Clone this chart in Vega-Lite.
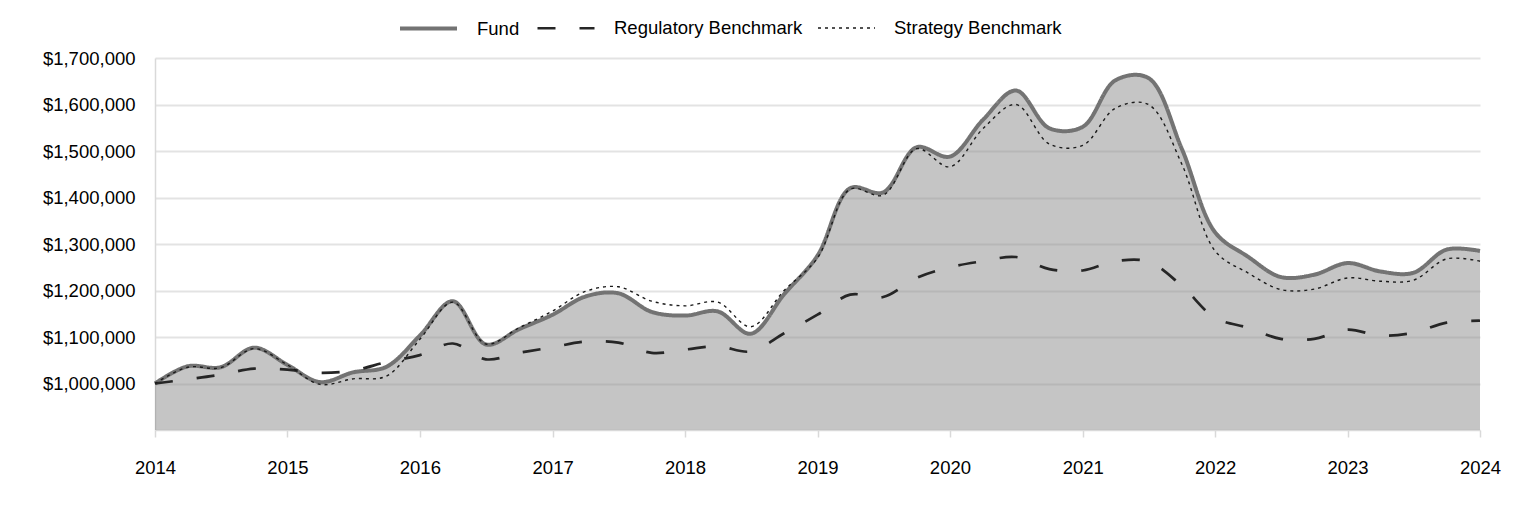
{
  "$schema": "https://vega.github.io/schema/vega-lite/v6.json",
  "width": 1325,
  "height": 372,
  "autosize": {"type": "none"},
  "padding": {"left": 155, "top": 58, "right": 44, "bottom": 86},
  "background": "white",
  "config": {
    "view": {"stroke": null},
    "font": "Liberation Sans",
    "axis": {"labelFont": "Liberation Sans", "labelFontSize": 18.5, "labelColor": "#000000", "title": null},
    "legend": {"labelFont": "Liberation Sans", "labelFontSize": 18.5, "labelColor": "#000000", "labelLimit": 0}
  },
  "data": {
    "values": [
      {"date": "2014-01-01", "Fund": 1000000, "Regulatory Benchmark": 1000000, "Strategy Benchmark": 1000000},
      {"date": "2014-04-01", "Fund": 1037000, "Regulatory Benchmark": 1009000, "Strategy Benchmark": 1035000},
      {"date": "2014-07-01", "Fund": 1035000, "Regulatory Benchmark": 1019000, "Strategy Benchmark": 1034000},
      {"date": "2014-10-01", "Fund": 1077000, "Regulatory Benchmark": 1032000, "Strategy Benchmark": 1075000},
      {"date": "2015-01-01", "Fund": 1040000, "Regulatory Benchmark": 1030000, "Strategy Benchmark": 1040000},
      {"date": "2015-04-01", "Fund": 1003000, "Regulatory Benchmark": 1023000, "Strategy Benchmark": 998000},
      {"date": "2015-07-01", "Fund": 1024000, "Regulatory Benchmark": 1028000, "Strategy Benchmark": 1010000},
      {"date": "2015-10-01", "Fund": 1036000, "Regulatory Benchmark": 1046000, "Strategy Benchmark": 1016000},
      {"date": "2016-01-01", "Fund": 1103000, "Regulatory Benchmark": 1061000, "Strategy Benchmark": 1095000},
      {"date": "2016-04-01", "Fund": 1177000, "Regulatory Benchmark": 1086000, "Strategy Benchmark": 1175000},
      {"date": "2016-07-01", "Fund": 1084000, "Regulatory Benchmark": 1052000, "Strategy Benchmark": 1085000},
      {"date": "2016-10-01", "Fund": 1117000, "Regulatory Benchmark": 1066000, "Strategy Benchmark": 1120000},
      {"date": "2017-01-01", "Fund": 1148000, "Regulatory Benchmark": 1078000, "Strategy Benchmark": 1156000},
      {"date": "2017-04-01", "Fund": 1187000, "Regulatory Benchmark": 1090000, "Strategy Benchmark": 1198000},
      {"date": "2017-07-01", "Fund": 1194000, "Regulatory Benchmark": 1088000, "Strategy Benchmark": 1208000},
      {"date": "2017-10-01", "Fund": 1154000, "Regulatory Benchmark": 1066000, "Strategy Benchmark": 1177000},
      {"date": "2018-01-01", "Fund": 1146000, "Regulatory Benchmark": 1073000, "Strategy Benchmark": 1167000},
      {"date": "2018-04-01", "Fund": 1155000, "Regulatory Benchmark": 1080000, "Strategy Benchmark": 1175000},
      {"date": "2018-07-01", "Fund": 1107000, "Regulatory Benchmark": 1069000, "Strategy Benchmark": 1122000},
      {"date": "2018-10-01", "Fund": 1192000, "Regulatory Benchmark": 1108000, "Strategy Benchmark": 1200000},
      {"date": "2019-01-01", "Fund": 1275000, "Regulatory Benchmark": 1148000, "Strategy Benchmark": 1270000},
      {"date": "2019-04-01", "Fund": 1420000, "Regulatory Benchmark": 1191000, "Strategy Benchmark": 1418000},
      {"date": "2019-07-01", "Fund": 1411000, "Regulatory Benchmark": 1186000, "Strategy Benchmark": 1405000},
      {"date": "2019-10-01", "Fund": 1508000, "Regulatory Benchmark": 1227000, "Strategy Benchmark": 1505000},
      {"date": "2020-01-01", "Fund": 1488000, "Regulatory Benchmark": 1250000, "Strategy Benchmark": 1466000},
      {"date": "2020-04-01", "Fund": 1567000, "Regulatory Benchmark": 1263000, "Strategy Benchmark": 1548000},
      {"date": "2020-07-01", "Fund": 1630000, "Regulatory Benchmark": 1272000, "Strategy Benchmark": 1600000},
      {"date": "2020-10-01", "Fund": 1549000, "Regulatory Benchmark": 1246000, "Strategy Benchmark": 1515000},
      {"date": "2021-01-01", "Fund": 1552000, "Regulatory Benchmark": 1243000, "Strategy Benchmark": 1512000},
      {"date": "2021-04-01", "Fund": 1652000, "Regulatory Benchmark": 1263000, "Strategy Benchmark": 1592000},
      {"date": "2021-07-01", "Fund": 1657000, "Regulatory Benchmark": 1262000, "Strategy Benchmark": 1600000},
      {"date": "2021-10-01", "Fund": 1505000, "Regulatory Benchmark": 1210000, "Strategy Benchmark": 1472000},
      {"date": "2022-01-01", "Fund": 1325000, "Regulatory Benchmark": 1141000, "Strategy Benchmark": 1285000},
      {"date": "2022-04-01", "Fund": 1273000, "Regulatory Benchmark": 1120000, "Strategy Benchmark": 1238000},
      {"date": "2022-07-01", "Fund": 1229000, "Regulatory Benchmark": 1096000, "Strategy Benchmark": 1202000},
      {"date": "2022-10-01", "Fund": 1234000, "Regulatory Benchmark": 1096000, "Strategy Benchmark": 1203000},
      {"date": "2023-01-01", "Fund": 1259000, "Regulatory Benchmark": 1116000, "Strategy Benchmark": 1227000},
      {"date": "2023-04-01", "Fund": 1241000, "Regulatory Benchmark": 1103000, "Strategy Benchmark": 1220000},
      {"date": "2023-07-01", "Fund": 1238000, "Regulatory Benchmark": 1109000, "Strategy Benchmark": 1222000},
      {"date": "2023-10-01", "Fund": 1288000, "Regulatory Benchmark": 1131000, "Strategy Benchmark": 1268000},
      {"date": "2024-01-01", "Fund": 1285000, "Regulatory Benchmark": 1135000, "Strategy Benchmark": 1263000}
    ]
  },
  "encoding": {
    "x": {
      "field": "date",
      "type": "temporal",
      "scale": {"domain": ["2014-01-01", "2024-01-01"]},
      "axis": {
        "format": "%Y",
        "tickCount": {"interval": "year", "step": 1},
        "grid": false,
        "domain": true,
        "domainColor": "#d9d9d9",
        "domainWidth": 1.5,
        "ticks": true,
        "tickColor": "#d9d9d9",
        "tickWidth": 1.5,
        "tickSize": 7,
        "labelPadding": 21,
        "labelFlush": false
      }
    }
  },
  "layer": [
    {
      "mark": {"type": "area", "interpolate": "catmull-rom", "color": "#8c8c8c", "opacity": 0.5},
      "encoding": {
        "y": {
          "field": "Fund",
          "type": "quantitative",
          "scale": {"domain": [900000, 1700000], "zero": false, "nice": false},
          "axis": {
            "values": [1000000, 1100000, 1200000, 1300000, 1400000, 1500000, 1600000, 1700000],
            "format": "$,.0f",
            "grid": true,
            "gridColor": "#e3e3e3",
            "gridWidth": 2,
            "domain": true,
            "domainColor": "#d9d9d9",
            "domainWidth": 1.5,
            "ticks": false,
            "labelPadding": 20
          }
        },
        "y2": {"datum": 900000}
      }
    },
    {
      "transform": [
        {"fold": ["Fund", "Regulatory Benchmark", "Strategy Benchmark"], "as": ["series", "value"]}
      ],
      "mark": {"type": "line", "interpolate": "catmull-rom"},
      "encoding": {
        "y": {"field": "value", "type": "quantitative"},
        "color": {
          "field": "series",
          "type": "nominal",
          "scale": {"domain": ["Fund", "Regulatory Benchmark", "Strategy Benchmark"], "range": ["#737373", "#262626", "#1a1a1a"]},
          "legend": {
            "title": null,
            "orient": "none",
            "legendX": 243,
            "legendY": -60,
            "direction": "horizontal",
            "symbolType": "stroke",
            "symbolSize": 3249,
            "labelOffset": 18,
            "columnPadding": 12,
            "padding": 0
          }
        },
        "strokeDash": {
          "field": "series",
          "type": "nominal",
          "scale": {"domain": ["Fund", "Regulatory Benchmark", "Strategy Benchmark"], "range": [[1, 0], [18, 24], [3, 4]]},
          "legend": null
        },
        "strokeWidth": {
          "field": "series",
          "type": "nominal",
          "scale": {"domain": ["Fund", "Regulatory Benchmark", "Strategy Benchmark"], "range": [4, 1.4, 1.8]},
          "legend": null
        }
      }
    }
  ]
}
